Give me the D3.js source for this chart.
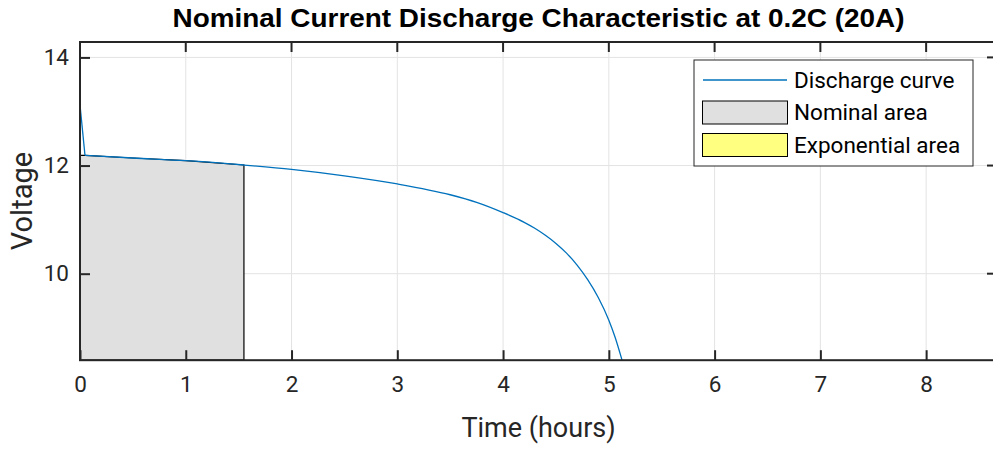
<!DOCTYPE html>
<html><head><meta charset="utf-8">
<script src="https://cdn.jsdelivr.net/npm/d3@7"></script>
<style>body{margin:0;background:#fff}svg{display:block}text{font-family:Roboto,"Liberation Sans",Arial,sans-serif;fill:#262626}</style>
</head><body><svg id="c" width="993" height="450"></svg>
<script>
const title = "Nominal Current Discharge Characteristic at 0.2C (20A)";
const xLabel = "Time (hours)";
const yLabel = "Voltage";
const xTicks = [0,1,2,3,4,5,6,7,8];
const yTicks = [10,12,14];
const timeH = [0, 0.047, 0.5, 1.0, 1.55, 2.0, 2.5, 3.0, 3.5, 3.75, 4.0, 4.2, 4.3, 4.4, 4.5, 4.6, 4.7, 4.8, 4.9, 5.0, 5.06, 5.125];
const volts = [13.12, 12.19, 12.14, 12.09, 12.01, 11.93, 11.81, 11.66, 11.46, 11.32, 11.13, 10.95, 10.84, 10.71, 10.56, 10.38, 10.16, 9.89, 9.56, 9.14, 8.82, 8.40];
const nominalEnd = 1.55;
const legendLabels = ["Discharge curve","Nominal area","Exponential area"];

const svg = d3.select("#c");
const L=80, R=997, T=42, B=360.2;
const x = d3.scaleLinear().domain([0,8.67]).range([L,R]);
const y = d3.scaleLinear().domain([8.4,14.285]).range([B,T]);
const ink="#262626";

svg.append("defs").append("clipPath").attr("id","clip").append("rect")
  .attr("x",L).attr("y",T).attr("width",R-L).attr("height",B-T);

const g = svg.append("g");
g.selectAll(".gx").data(xTicks).join("line").attr("x1",d=>x(d)).attr("x2",d=>x(d))
  .attr("y1",T).attr("y2",B).attr("stroke","#e3e3e3").attr("stroke-width",1);
g.selectAll(".gy").data(yTicks).join("line").attr("y1",d=>y(d)).attr("y2",d=>y(d))
  .attr("x1",L).attr("x2",R).attr("stroke","#e3e3e3").attr("stroke-width",1);

const pts = timeH.map((t,i)=>[t,volts[i]]);
const area = svg.append("g").attr("clip-path","url(#clip)");
const nom = [[0,8.4],[0,volts[1]]].concat(pts.filter(p=>p[0]>=timeH[1] && p[0]<=nominalEnd)).concat([[nominalEnd,8.4]]);
area.append("path")
  .attr("d", d3.line().x(d=>x(d[0])).y(d=>y(d[1]))(nom) + "Z")
  .attr("fill","#e0e0e0").attr("stroke","#000").attr("stroke-width",1.2);

const lineLin = d3.line().x(d=>x(d[0])).y(d=>y(d[1]));
const lineSm = d3.line().x(d=>x(d[0])).y(d=>y(d[1])).curve(d3.curveMonotoneX);
area.append("path").attr("d", lineLin(pts.slice(0,2)))
  .attr("fill","none").attr("stroke","#0072bd").attr("stroke-width",1.3);
area.append("path").attr("d", lineSm(pts.slice(1)))
  .attr("fill","none").attr("stroke","#0072bd").attr("stroke-width",1.3);

svg.append("rect").attr("x",L).attr("y",T).attr("width",R-L).attr("height",B-T)
  .attr("fill","none").attr("stroke",ink).attr("stroke-width",2);

const xa = d3.axisBottom(x).tickValues(xTicks).tickSize(-10).tickPadding(16).tickFormat(d3.format("d"));
const xg = svg.append("g").attr("transform",`translate(0,${B})`).call(xa);
const ya = d3.axisLeft(y).tickValues(yTicks).tickSize(-10).tickPadding(11).tickFormat(d3.format("d"));
const yg = svg.append("g").attr("transform",`translate(${L},0)`).call(ya);
[xg,yg].forEach(s=>{s.select(".domain").remove();
  s.selectAll(".tick line").attr("stroke",ink).attr("stroke-width",2);
  s.selectAll(".tick text").attr("font-size",22.5).attr("fill",ink).attr("font-family","Roboto,'Liberation Sans',Arial,sans-serif");});
svg.append("g").selectAll("line").data(xTicks).join("line")
  .attr("x1",d=>x(d)).attr("x2",d=>x(d)).attr("y1",T).attr("y2",T+10).attr("stroke",ink).attr("stroke-width",2);
svg.append("g").selectAll("line").data(yTicks).join("line")
  .attr("x1",R).attr("x2",R-10).attr("y1",d=>y(d)).attr("y2",d=>y(d)).attr("stroke",ink).attr("stroke-width",2);

svg.append("text").attr("x",(L+R)/2).attr("y",27).attr("text-anchor","middle")
  .attr("font-weight","bold").attr("font-size",25).style("font-family","'Liberation Sans',Arial,sans-serif")
  .attr("textLength",732).attr("lengthAdjust","spacingAndGlyphs")
  .style("fill","#000").text(title);
svg.append("text").attr("x",(L+R)/2).attr("y",437).attr("text-anchor","middle").attr("font-size",27).text(xLabel);
svg.append("text").attr("transform",`translate(32,${(T+B)/2}) rotate(-90)`).attr("text-anchor","middle").attr("font-size",29).text(yLabel);

const lg = svg.append("g");
lg.append("rect").attr("x",694).attr("y",60).attr("width",279).attr("height",106).attr("fill","#fff").attr("stroke",ink).attr("stroke-width",1);
lg.append("line").attr("x1",703).attr("x2",787).attr("y1",80).attr("y2",80).attr("stroke","#0072bd").attr("stroke-width",1.3);
lg.append("rect").attr("x",702.5).attr("y",101).attr("width",85).attr("height",23).attr("fill","#e0e0e0").attr("stroke","#000").attr("stroke-width",1);
lg.append("rect").attr("x",702.5).attr("y",133.5).attr("width",85).attr("height",23).attr("fill","#ffff80").attr("stroke","#000").attr("stroke-width",1);
lg.selectAll("text").data(legendLabels).join("text").attr("x",794).attr("y",(d,i)=>80+i*32.5)
  .attr("dy","0.35em").attr("font-size",22.5).style("fill","#000").text(d=>d);
</script></body></html>
